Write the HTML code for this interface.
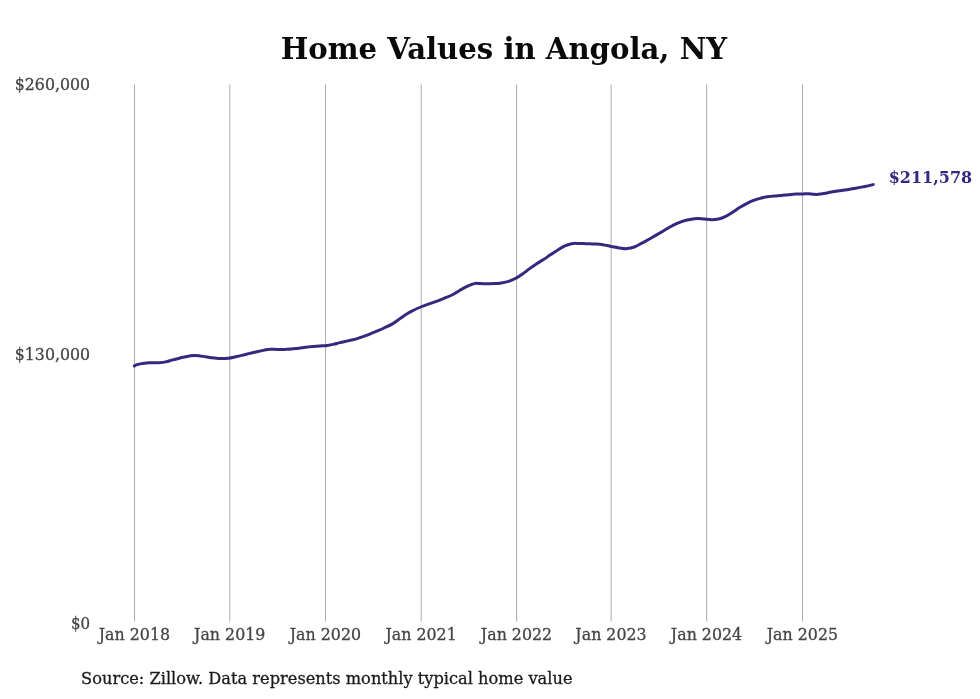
<!DOCTYPE html>
<html><head><meta charset="utf-8"><title>Home Values in Angola, NY</title>
<style>
html,body{margin:0;padding:0;background:#fff}
svg{display:block;font-family:"DejaVu Serif","Liberation Serif",serif}
.g line{stroke:#b0b0b0;stroke-width:1.05}
.t{font-size:17.5px;fill:#444;stroke:#444;stroke-width:0.3}
</style></head><body>
<svg width="980" height="699" viewBox="0 0 980 699">
<rect width="980" height="699" fill="#fff"/>
<text transform="translate(503.9,59.25) scale(1.009,1)" text-anchor="middle" font-size="28.9" font-weight="bold" fill="#0a0a0a">Home Values in Angola, NY</text>
<g class="g"><line x1="134.50" y1="84.6" x2="134.50" y2="621.4"/><line x1="229.80" y1="84.6" x2="229.80" y2="621.4"/><line x1="325.50" y1="84.6" x2="325.50" y2="621.4"/><line x1="421.20" y1="84.6" x2="421.20" y2="621.4"/><line x1="516.60" y1="84.6" x2="516.60" y2="621.4"/><line x1="611.10" y1="84.6" x2="611.10" y2="621.4"/><line x1="706.60" y1="84.6" x2="706.60" y2="621.4"/><line x1="802.50" y1="84.6" x2="802.50" y2="621.4"/></g>
<g class="t" text-anchor="end">
<text transform="translate(90.10,90.4) scale(0.903,1)">$260,000</text><text transform="translate(90.10,359.5) scale(0.903,1)">$130,000</text><text transform="translate(90.20,628.6) scale(0.86,1)">$0</text>
</g>
<g class="t" text-anchor="middle"><text transform="translate(134.40,640.4) scale(0.905,1)">Jan 2018</text><text transform="translate(229.70,640.4) scale(0.905,1)">Jan 2019</text><text transform="translate(325.40,640.4) scale(0.905,1)">Jan 2020</text><text transform="translate(421.10,640.4) scale(0.905,1)">Jan 2021</text><text transform="translate(516.50,640.4) scale(0.905,1)">Jan 2022</text><text transform="translate(611.00,640.4) scale(0.905,1)">Jan 2023</text><text transform="translate(706.50,640.4) scale(0.905,1)">Jan 2024</text><text transform="translate(802.40,640.4) scale(0.905,1)">Jan 2025</text></g>
<path transform="translate(0,0.5)" d="M134.3,365.5C134.8,365.3 135.4,364.6 137.1,364.1C138.8,363.6 141.9,363.0 144.3,362.7C146.7,362.4 149.0,362.4 151.4,362.3C153.8,362.2 156.2,362.5 158.6,362.3C161.0,362.1 163.3,361.9 165.7,361.4C168.1,360.9 170.5,360.0 172.9,359.4C175.3,358.8 177.6,358.1 180.0,357.5C182.4,356.9 184.7,356.3 187.1,355.9C189.5,355.5 192.2,355.2 194.3,355.1C196.5,355.0 197.9,355.2 200.0,355.4C202.1,355.6 204.7,356.0 207.1,356.4C209.5,356.8 211.9,357.2 214.3,357.5C216.7,357.8 219.0,358.1 221.4,358.1C223.8,358.1 226.2,358.0 228.6,357.7C231.0,357.4 233.3,356.8 235.7,356.3C238.1,355.8 240.5,355.2 242.9,354.6C245.3,354.0 247.6,353.5 250.0,352.9C252.4,352.3 254.7,351.8 257.1,351.2C259.5,350.6 262.2,350.0 264.3,349.6C266.4,349.2 267.9,348.9 270.0,348.8C272.1,348.6 274.7,348.9 277.1,348.9C279.5,348.9 281.9,348.9 284.3,348.9C286.7,348.8 289.0,348.8 291.4,348.6C293.8,348.4 296.2,348.0 298.6,347.7C301.0,347.4 303.3,347.1 305.7,346.8C308.1,346.5 310.5,346.3 312.9,346.1C315.3,345.9 317.6,345.7 320.0,345.5C322.4,345.3 324.7,345.2 327.1,344.9C329.5,344.6 332.2,344.1 334.3,343.6C336.4,343.1 337.4,342.7 340.0,342.1C342.6,341.5 347.1,340.6 350.0,339.9C352.9,339.2 354.7,338.8 357.1,338.1C359.5,337.4 361.9,336.5 364.3,335.6C366.7,334.7 369.0,333.8 371.4,332.8C373.8,331.9 376.2,330.9 378.6,329.9C381.0,328.9 383.3,327.8 385.7,326.7C388.1,325.6 390.5,324.5 392.9,323.1C395.3,321.7 397.6,319.8 400.0,318.1C402.4,316.5 405.1,314.4 407.1,313.2C409.1,311.9 410.3,311.5 412.0,310.6C413.7,309.7 415.1,308.9 417.1,308.0C419.2,307.1 421.9,306.0 424.3,305.1C426.7,304.2 429.0,303.4 431.4,302.6C433.8,301.8 436.2,301.0 438.6,300.1C441.0,299.2 443.3,298.2 445.7,297.2C448.1,296.2 450.5,295.2 452.9,294.0C455.3,292.8 457.6,291.1 460.0,289.7C462.4,288.3 464.7,286.9 467.1,285.8C469.5,284.7 472.2,283.6 474.3,283.1C476.4,282.6 477.9,283.0 480.0,283.0C482.1,283.0 484.7,283.3 487.1,283.3C489.5,283.3 491.9,283.2 494.3,283.1C496.7,283.0 499.0,282.8 501.4,282.4C503.8,282.0 506.2,281.6 508.6,280.8C511.0,280.0 513.3,279.1 515.7,277.8C518.1,276.6 520.5,275.0 522.9,273.3C525.3,271.6 527.6,269.6 530.0,267.9C532.4,266.2 534.7,264.6 537.1,263.0C539.5,261.4 542.1,260.0 544.3,258.6C546.4,257.2 547.9,256.0 550.0,254.6C552.1,253.2 554.7,251.5 557.1,250.0C559.5,248.5 561.9,246.8 564.3,245.7C566.7,244.6 569.0,243.7 571.4,243.2C573.8,242.7 576.2,242.9 578.6,242.9C581.0,242.9 583.3,243.1 585.7,243.2C588.1,243.3 590.5,243.3 592.9,243.4C595.3,243.5 597.6,243.4 600.0,243.7C602.4,244.0 604.7,244.5 607.1,245.0C609.5,245.5 612.1,246.2 614.3,246.6C616.4,247.0 617.9,247.2 620.0,247.5C622.1,247.8 624.7,248.3 627.1,248.1C629.5,247.9 631.9,247.4 634.3,246.5C636.7,245.6 639.0,244.2 641.4,242.9C643.8,241.7 646.2,240.3 648.6,239.0C651.0,237.7 653.3,236.3 655.7,234.9C658.1,233.5 660.5,232.1 662.9,230.7C665.3,229.3 667.6,227.8 670.0,226.5C672.4,225.2 674.7,224.0 677.1,222.9C679.5,221.8 682.1,220.8 684.3,220.2C686.4,219.5 687.9,219.4 690.0,219.0C692.1,218.6 694.7,218.0 697.1,217.9C699.5,217.8 701.9,218.4 704.3,218.6C706.7,218.8 709.0,219.2 711.4,219.2C713.8,219.2 716.2,219.1 718.6,218.5C721.0,217.9 723.3,217.0 725.7,215.8C728.1,214.6 730.5,213.0 732.9,211.5C735.3,210.0 737.6,208.2 740.0,206.8C742.4,205.4 744.7,204.1 747.1,202.9C749.5,201.7 752.1,200.5 754.3,199.7C756.4,198.9 757.9,198.5 760.0,197.9C762.1,197.3 764.7,196.7 767.1,196.3C769.5,195.9 771.9,195.6 774.3,195.4C776.7,195.2 779.0,195.1 781.4,194.9C783.8,194.7 786.2,194.4 788.6,194.2C791.0,194.0 793.3,193.7 795.7,193.6C798.1,193.5 800.8,193.6 802.9,193.5C805.0,193.4 806.9,193.2 808.6,193.2C810.3,193.2 811.7,193.6 813.0,193.7C814.3,193.8 815.1,193.9 816.4,193.9C817.7,193.9 818.9,193.8 820.7,193.5C822.5,193.2 824.8,192.8 827.1,192.4C829.4,192.0 831.9,191.5 834.3,191.1C836.7,190.7 839.0,190.4 841.4,190.0C843.8,189.6 846.2,189.3 848.6,188.9C851.0,188.5 853.3,188.1 855.7,187.7C858.1,187.3 860.5,186.9 862.9,186.4C865.3,185.9 868.3,185.3 870.0,184.9C871.7,184.5 872.7,184.2 873.2,184.1" fill="none" stroke="#33297f" stroke-width="3" stroke-linecap="round" stroke-linejoin="round"/>
<text transform="translate(888.7,182.5) scale(0.942,1)" font-size="17" font-weight="bold" fill="#33297f">$211,578</text>
<text transform="translate(81.1,683.55) scale(0.949,1)" font-size="17.1" fill="#1a1a1a" stroke="#1a1a1a" stroke-width="0.3">Source: Zillow. Data represents monthly typical home value</text>
</svg>
</body></html>
